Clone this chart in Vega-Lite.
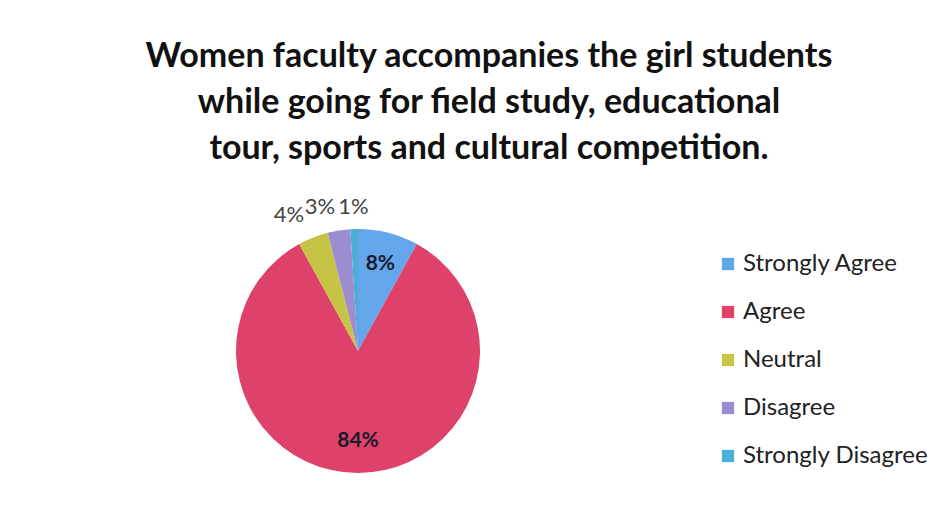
{
  "$schema": "https://vega.github.io/schema/vega-lite/v6.json",
  "autosize": "none",
  "padding": {"left": 237, "top": 229, "right": 470, "bottom": 56},
  "width": 242,
  "height": 244,
  "background": "white",
  "config": {"view": {"stroke": null}},
  "title": {
    "text": ["Women faculty accompanies the girl students", "while going for field study, educational", "tour, sports and cultural competition."],
    "font": "Lato",
    "fontSize": 34,
    "fontWeight": "bold",
    "lineHeight": 46,
    "color": "#111111",
    "anchor": "middle",
    "frame": "group",
    "dx": 131,
    "offset": 28
  },
  "data": {
    "values": [
      {"category": "Strongly Agree", "value": 0.08},
      {"category": "Agree", "value": 0.84},
      {"category": "Neutral", "value": 0.04},
      {"category": "Disagree", "value": 0.03},
      {"category": "Strongly Disagree", "value": 0.01}
    ]
  },
  "transform": [{"window": [{"op": "row_number", "as": "rank"}]}],
  "encoding": {
    "theta": {"field": "value", "type": "quantitative", "stack": true},
    "order": {"field": "rank", "type": "quantitative", "sort": "ascending"},
    "color": {
      "field": "category",
      "type": "nominal",
      "sort": ["Strongly Agree", "Agree", "Neutral", "Disagree", "Strongly Disagree"],
      "scale": {
        "domain": ["Strongly Agree", "Agree", "Neutral", "Disagree", "Strongly Disagree"],
        "range": ["#64a6ec", "#de4169", "#c6c447", "#9d8ccf", "#4aaed6"]
      }
    }
  },
  "layer": [
    {
      "mark": {"type": "arc", "outerRadius": 122},
      "encoding": {
        "color": {
          "field": "category",
          "type": "nominal",
          "sort": ["Strongly Agree", "Agree", "Neutral", "Disagree", "Strongly Disagree"],
          "legend": {
            "title": null,
            "orient": "right",
            "offset": 214,
            "padding": 23,
            "symbolType": "square",
            "symbolSize": 150,
            "symbolStrokeWidth": 0,
            "labelFont": "Lato",
            "labelFontSize": 24,
            "labelColor": "#222222",
            "labelOffset": 3,
            "rowPadding": 24,
            "labelLimit": 300
          }
        }
      }
    },
    {
      "mark": {"type": "text", "radius": 90, "font": "Lato", "fontSize": 21, "fontWeight": "bold"},
      "encoding": {
        "text": {
          "condition": {"test": "datum.category === 'Strongly Agree' || datum.category === 'Agree'", "field": "value", "format": ".0%"},
          "value": ""
        },
        "fill": {"value": "#1a1a2a"},
        "color": {"field": "category", "type": "nominal", "sort": ["Strongly Agree", "Agree", "Neutral", "Disagree", "Strongly Disagree"], "legend": null}
      }
    },
    {
      "mark": {"type": "text", "radius": 146, "font": "Lato", "fontSize": 22, "align": "right"},
      "encoding": {
        "text": {
          "condition": {"test": "datum.category === 'Neutral' || datum.category === 'Disagree'", "field": "value", "format": ".0%"},
          "value": ""
        },
        "fill": {"value": "#444444"},
        "color": {"field": "category", "type": "nominal", "sort": ["Strongly Agree", "Agree", "Neutral", "Disagree", "Strongly Disagree"], "legend": null}
      }
    },
    {
      "mark": {"type": "text", "radius": 144, "font": "Lato", "fontSize": 22, "align": "center"},
      "encoding": {
        "text": {
          "condition": {"test": "datum.category === 'Strongly Disagree'", "field": "value", "format": ".0%"},
          "value": ""
        },
        "fill": {"value": "#444444"},
        "color": {"field": "category", "type": "nominal", "sort": ["Strongly Agree", "Agree", "Neutral", "Disagree", "Strongly Disagree"], "legend": null}
      }
    }
  ]
}
